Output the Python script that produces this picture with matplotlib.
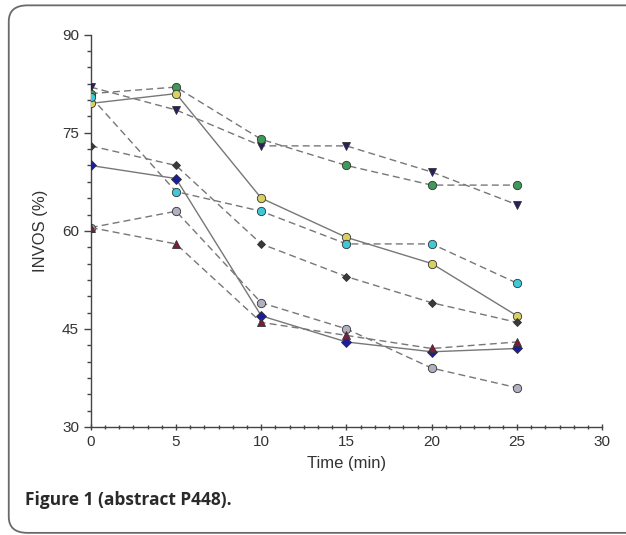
import matplotlib
matplotlib.use("Agg")
import matplotlib.pyplot as plt
from matplotlib.patches import FancyBboxPatch
from matplotlib.ticker import MultipleLocator, AutoMinorLocator

# time points (min)
time = [0, 5, 10, 15, 20, 25]

# INVOS (%) per patient
navy_tri = [82, 78.5, 73, 73, 69, 64]
green_circ = [81, 82, 74, 70, 67, 67]
yellow_circ = [79.5, 81, 65, 59, 55, 47]
cyan_circ = [80.5, 66, 63, 58, 58, 52]
black_diam = [73, 70, 58, 53, 49, 46]
blue_diam = [70, 68, 47, 43, 41.5, 42]
gray_circ = [60.5, 63, 49, 45, 39, 36]
maroon_tri = [60.5, 58, 46, 44, 42, 43]

series = [navy_tri, green_circ, yellow_circ, cyan_circ,
          black_diam, blue_diam, gray_circ, maroon_tri]
styles = [
    dict(marker="v", mfc="#2a1f5e", ls="--"),
    dict(marker="o", mfc="#3f9a5a", ls="--"),
    dict(marker="o", mfc="#d8d060", ls="-"),
    dict(marker="o", mfc="#40c8d8", ls="--"),
    dict(marker="D", mfc="#3a3a3a", ls="--", ms=4.5),
    dict(marker="D", mfc="#1c1ca0", ls="-", ms=5),
    dict(marker="o", mfc="#b0b0c0", ls="--"),
    dict(marker="^", mfc="#7a1c3c", ls="--"),
]

fig = plt.figure(figsize=(6.26, 5.35), dpi=100)
plt.rcParams["font.family"] = ["Liberation Sans", "DejaVu Sans"]

# rounded frame around the figure (open on the right)
frame = FancyBboxPatch((0.014, 0.004), 1.1, 0.986, boxstyle="round,pad=0,rounding_size=0.03",
                       transform=fig.transFigure, fill=False, ec="#6a6a6a", lw=1.3)
fig.patches.append(frame)

ax = fig.add_axes([0.145, 0.202, 0.817, 0.733])
for y, st in zip(series, styles):
    ms = st.pop("ms", 6)
    ax.plot(time, y, color="#777777", lw=1.0, mec="#333333", mew=0.6, ms=ms, zorder=3,
            dashes=(5, 3) if st["ls"] == "--" else (None, None), **st)

ax.set_xlim(0, 30)
ax.set_ylim(30, 90)
ax.xaxis.set_major_locator(MultipleLocator(5))
ax.yaxis.set_major_locator(MultipleLocator(15))
ax.xaxis.set_minor_locator(AutoMinorLocator(6))
ax.yaxis.set_minor_locator(AutoMinorLocator(6))
ax.spines["top"].set_visible(False)
ax.spines["right"].set_visible(False)
for s in ("left", "bottom"):
    ax.spines[s].set_color("#444444")
    ax.spines[s].set_linewidth(1.0)
ax.tick_params(which="major", length=5, width=1, color="#444444", labelsize=11, labelcolor="#333333")
ax.tick_params(which="minor", length=3, width=1, color="#444444")
ax.tick_params(axis="x", which="both", direction="inout")

ax.set_xlabel("Time (min)", fontsize=12, color="#333333", labelpad=5)
ax.set_ylabel("INVOS (%)", fontsize=12, color="#333333", labelpad=10)

fig.text(0.04, 0.065, "Figure 1 (abstract P448).", fontsize=12.5, fontweight="bold", va="center",
         color="#2a2a2a", family=["Open Sans", "DejaVu Sans"])

fig.savefig("out.png", dpi=100)
